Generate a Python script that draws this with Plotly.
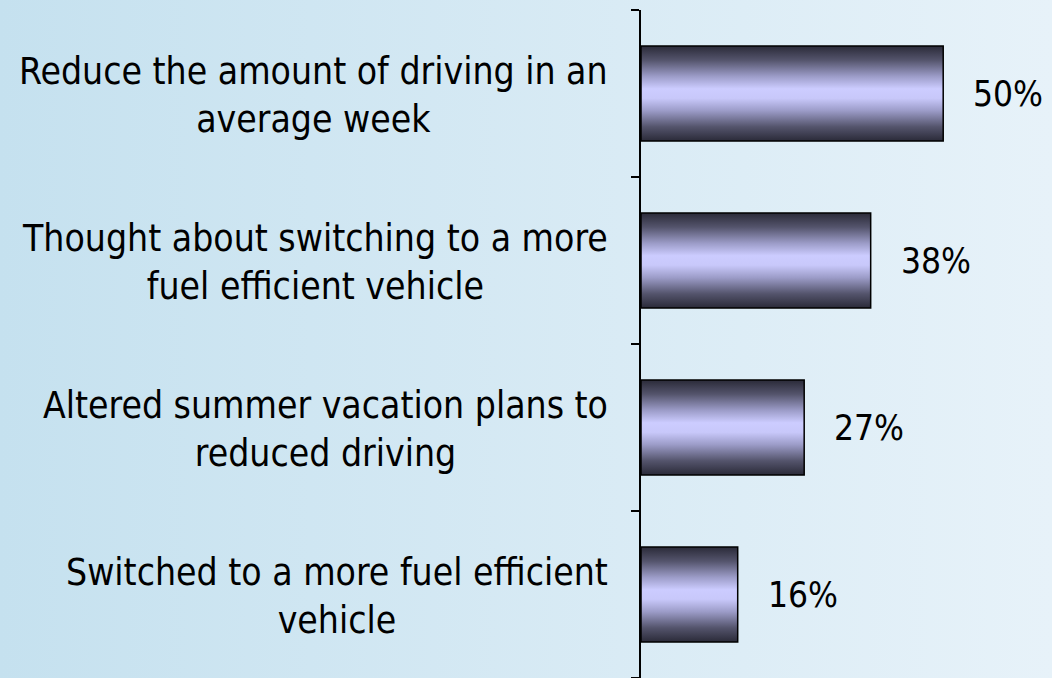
import plotly.graph_objects as go

categories = [
    "Reduce the amount of driving in an<br>average week",
    "Thought about switching to a more<br>fuel efficient vehicle",
    "Altered summer vacation plans to<br>reduced driving",
    "Switched to a more fuel efficient<br>vehicle",
]
values = [50, 38, 27, 16]
value_labels = ["50%", "38%", "27%", "16%"]

FONT = "DejaVu Sans Condensed, DejaVu Sans, sans-serif"
half = 0.285

bg_svg = (
    "data:image/svg+xml;utf8,"
    "<svg xmlns='http://www.w3.org/2000/svg' width='1052' height='678'>"
    "<defs><linearGradient id='g' x1='0' y1='0' x2='1' y2='0'>"
    "<stop offset='0' stop-color='%23c5e1ef'/>"
    "<stop offset='1' stop-color='%23e7f2f9'/>"
    "</linearGradient></defs>"
    "<rect width='1052' height='678' fill='url(%23g)'/></svg>"
)

fig = go.Figure()

scale = [
    [0.0, "#2a2a38"], [0.15, "#54546c"], [0.32, "#9c9cc8"], [0.45, "#c8c8fa"],
    [0.55, "#ccccff"], [0.68, "#9c9cc8"], [0.85, "#54546c"], [1.0, "#2a2a38"],
]

for i, v in enumerate(values):
    fig.add_trace(go.Scatter(
        x=[0, v, v, 0, 0],
        y=[i - half, i - half, i + half, i + half, i - half],
        mode="lines",
        fill="toself",
        fillgradient=dict(type="vertical", colorscale=scale),
        line=dict(color="black", width=1.5),
        hoverinfo="skip",
        showlegend=False,
    ))

annotations = []
for i, (c, v, t) in enumerate(zip(categories, values, value_labels)):
    annotations.append(dict(
        x=0, y=i, xref="paper", yref="y", text=c, showarrow=False,
        xanchor="right", yanchor="middle", align="center", xshift=-31, yshift=-2,
        font=dict(family=FONT, size=37, color="black"),
    ))
    annotations.append(dict(
        x=v, y=i, xref="x", yref="y", text=t, showarrow=False,
        xanchor="left", yanchor="middle", xshift=28,
        font=dict(family=FONT, size=35, color="black"),
    ))

fig.update_layout(
    width=1052, height=678,
    margin=dict(l=641, r=0, t=10, b=0),
    paper_bgcolor="#d6eaf4",
    plot_bgcolor="rgba(0,0,0,0)",
    images=[dict(source=bg_svg, xref="paper", yref="paper", x=-641/411, y=1+10/668,
                 sizex=1052/411, sizey=678/668, xanchor="left", yanchor="top",
                 sizing="stretch", layer="below")],
    xaxis=dict(range=[0, 68], visible=False, fixedrange=True),
    yaxis=dict(range=[3.5, -0.5], showgrid=False, zeroline=False, fixedrange=True,
               showline=True, linecolor="black", linewidth=2,
               ticks="outside", ticklen=8, tickcolor="black", tickwidth=1.5,
               tickvals=[-0.5, 0.5, 1.5, 2.5, 3.5], showticklabels=False),
    annotations=annotations,
)

fig.write_html("out.html", config={"displayModeBar": False},
               post_script="document.body.style.margin='0';document.body.style.overflow='hidden';")
